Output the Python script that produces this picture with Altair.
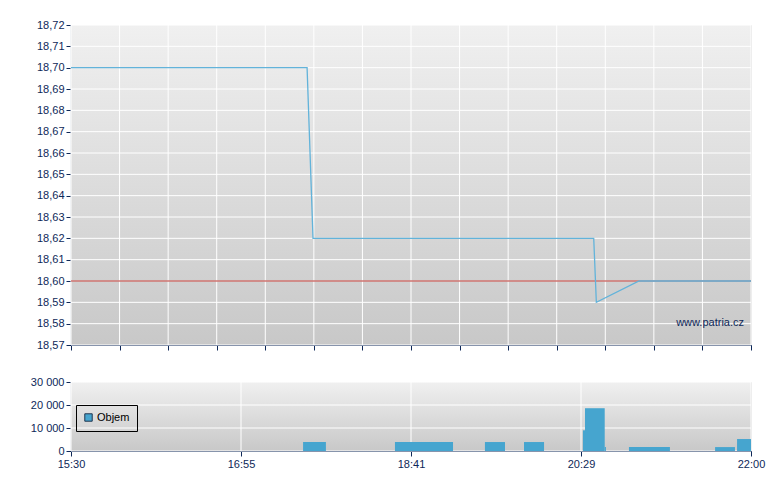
import altair as alt
import pandas as pd

# ---- data (x = minutes since 15:30, on the chart's evenly spaced time axis) ----
price_t = [0, 135.4, 138.8, 299.8, 301.3, 325.8, 390]
price_v = [18.70, 18.70, 18.62, 18.62, 18.59, 18.60, 18.60]

vol_start = [133.1, 185.8, 237.4, 259.8, 293.6, 294.8, 306.1, 320.0, 369.4, 382.0]
vol_end   = [146.2, 219.1, 248.9, 271.3, 294.8, 306.1, 306.8, 343.5, 380.8, 390.0]
vol_v     = [3900, 3900, 3900, 3900, 9000, 18600, 1700, 1700, 1700, 5200]

ref_price = 18.60
time_labels = ["15:30", "16:55", "18:41", "20:29", "22:00"]
price_ticks = [round(18.57 + i * 0.01, 2) for i in range(16)]
vol_ticks = [0, 10000, 20000, 30000]
series_name = "Objem"
watermark = "www.patria.cz"

NAVY = "#0E2858"
FONT = "Liberation Sans"
LINE = "#62B3DA"
BAR = "#46A5CF"

price_df = pd.DataFrame({"t": price_t, "p": price_v})
vol_df = pd.DataFrame({"t0": vol_start, "t1": vol_end, "v": vol_v, "s": series_name})

top_ticks = [i * 390 / 14 for i in range(15)]
bot_ticks = [i * 390 / 4 for i in range(5)]

xdom = alt.Scale(domain=[0, 390], nice=False, zero=False)
pdom = alt.Scale(domain=[18.57, 18.72], nice=False, zero=False)
vdom = alt.Scale(domain=[0, 30000], nice=False)

axis_common = dict(
    domainColor=NAVY, tickColor=NAVY, labelColor=NAVY, labelFont=FONT,
    labelFontSize=11, grid=False, tickSize=5, domainWidth=1.2, labelPadding=2,
    labelOverlap=False, labelFlush=False,
)

grad = alt.LinearGradient(
    gradient="linear", x1=0, y1=0, x2=0, y2=1,
    stops=[alt.GradientStop(offset=0, color="#F0F0F0"),
           alt.GradientStop(offset=1, color="#C8C8C8")],
)

# shared encodings (identical in every layer so the axes merge cleanly)
top_x = alt.X("t:Q", scale=xdom, title=None,
              axis=alt.Axis(values=top_ticks, labels=False, minExtent=5, maxExtent=5, **axis_common))
top_y = alt.Y("p:Q", scale=pdom, title=None,
              axis=alt.Axis(values=price_ticks,
                            labelExpr="replace(format(datum.value, '.2f'), '.', ',')",
                            minExtent=57, maxExtent=57, **axis_common))
bot_x = alt.X("t0:Q", scale=xdom, title=None,
              axis=alt.Axis(values=bot_ticks,
                            labelExpr="%s[round(datum.value / 97.5)]" % str(time_labels),
                            **axis_common))
bot_y = alt.Y("v:Q", scale=vdom, title=None,
              axis=alt.Axis(values=vol_ticks,
                            labelExpr="replace(format(datum.value, ',d'), ',', ' ')",
                            minExtent=57, maxExtent=57, **axis_common))


def background(w, h):
    return alt.Chart(pd.DataFrame({"a": [0]})).mark_rect(color=grad).encode(
        x=alt.value(0), x2=alt.value(w), y=alt.value(0), y2=alt.value(h))


def grid_rules(df, enc):
    return alt.Chart(df).mark_rule(color="white", strokeWidth=1).encode(**enc)


# ---- top panel ----
line = alt.Chart(price_df).mark_line(color=LINE, strokeWidth=1.3).encode(x=top_x, y=top_y)
ref = alt.Chart(pd.DataFrame({"p": [ref_price]})).mark_rule(color="#B8302A", strokeWidth=1).encode(y=top_y)
wm = alt.Chart(pd.DataFrame({"w": [watermark]})).mark_text(
    align="right", baseline="middle", font=FONT, fontSize=11, color=NAVY
).encode(text="w:N", x=alt.value(673), y=alt.value(298))

top = alt.layer(
    background(680, 320),
    grid_rules(pd.DataFrame({"t": top_ticks}), {"x": top_x}),
    grid_rules(pd.DataFrame({"p": price_ticks}), {"y": top_y}),
    ref, line, wm
).properties(width=680, height=320)

# ---- bottom panel ----
bars = alt.Chart(vol_df).mark_rect().encode(
    x=bot_x, x2="t1:Q", y=bot_y, y2=alt.datum(0),
    color=alt.Color("s:N", scale=alt.Scale(range=[BAR]), title=None,
                    legend=alt.Legend(orient="none", legendX=5, legendY=380,
                                      strokeColor="black", padding=7,
                                      symbolType="square", symbolSize=55,
                                      symbolStrokeColor="#1F3550", symbolStrokeWidth=1,
                                      symbolFillColor=BAR, symbolOpacity=1,
                                      labelFont=FONT, labelFontSize=11, labelColor="black",
                                      labelOffset=3)),
)
bottom = alt.layer(
    background(680, 69),
    grid_rules(pd.DataFrame({"t0": bot_ticks}), {"x": bot_x}),
    grid_rules(pd.DataFrame({"v": vol_ticks}), {"y": bot_y}),
    bars
).properties(width=680, height=69)

chart = alt.vconcat(top, bottom, spacing=24).properties(
    padding={"top": 10, "left": 5, "right": 5, "bottom": 5}
).configure_view(stroke=None).configure(background="white")

chart.save("out.html", embed_options={"renderer": "svg", "actions": False})
